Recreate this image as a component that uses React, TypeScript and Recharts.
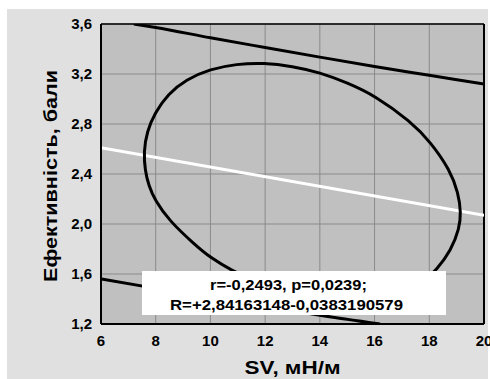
import React from "react";
import {
  LineChart,
  Line,
  XAxis,
  YAxis,
  CartesianGrid,
  ReferenceLine,
  Label,
} from "recharts";

// axis ticks
const xTicks = [6, 8, 10, 12, 14, 16, 18, 20];
const yTicks = [1.2, 1.6, 2.0, 2.4, 2.8, 3.2, 3.6];

// regression line R = 2,8416 - 0,0383*SV
const regression = [
  { x: 6, y: 2.61 },
  { x: 20, y: 2.07 },
];

// confidence band, upper branch
const upperBand = [
  { x: 7.2, y: 3.6 },
  { x: 8, y: 3.572 },
  { x: 10, y: 3.49 },
  { x: 12, y: 3.412 },
  { x: 14, y: 3.335 },
  { x: 16, y: 3.26 },
  { x: 18, y: 3.19 },
  { x: 20, y: 3.12 },
];

// confidence band, lower branch
const lowerBand = [
  { x: 6, y: 1.56 },
  { x: 8, y: 1.485 },
  { x: 10, y: 1.413 },
  { x: 12, y: 1.342 },
  { x: 14, y: 1.27 },
  { x: 16.2, y: 1.2 },
];

// 95% ellipse, traced around from the bottom (closed by the curve)
const ellipse = [
  { x: 14.79, y: 1.37 },
  { x: 15.8, y: 1.385 },
  { x: 16.72, y: 1.425 },
  { x: 17.3, y: 1.475 },
  { x: 17.83, y: 1.545 },
  { x: 18.25, y: 1.63 },
  { x: 18.8, y: 1.79 },
  { x: 19.1, y: 1.966 },
  { x: 19.16, y: 2.09 },
  { x: 19.06, y: 2.25 },
  { x: 18.76, y: 2.43 },
  { x: 18.05, y: 2.655 },
  { x: 17.32, y: 2.82 },
  { x: 16.03, y: 3.025 },
  { x: 15.0, y: 3.13 },
  { x: 14.0, y: 3.212 },
  { x: 13.0, y: 3.262 },
  { x: 11.95, y: 3.29 },
  { x: 10.95, y: 3.28 },
  { x: 10.0, y: 3.24 },
  { x: 9.1, y: 3.155 },
  { x: 8.45, y: 3.04 },
  { x: 7.97, y: 2.89 },
  { x: 7.68, y: 2.74 },
  { x: 7.56, y: 2.578 },
  { x: 7.61, y: 2.43 },
  { x: 7.74, y: 2.31 },
  { x: 7.97, y: 2.19 },
  { x: 8.48, y: 2.03 },
  { x: 9.4, y: 1.84 },
  { x: 10.0, y: 1.73 },
  { x: 10.78, y: 1.628 },
  { x: 11.7, y: 1.535 },
  { x: 12.72, y: 1.448 },
  { x: 13.7, y: 1.395 },
];

const statLines = ["r=-0,2493, p=0,0239;", "R=+2,84163148-0,0383190579"];

const FONT = "'Liberation Sans', Arial, sans-serif";
const tickStyle = { fontSize: 15, fontWeight: 700, fill: "#000", fontFamily: FONT };

export default function App() {
  return (
    <div style={{ position: "absolute", left: 0, top: 0, width: 490, height: 379, overflow: "hidden", background: "#fff" }}>
      <div style={{ position: "absolute", left: 7, top: 9, width: 481, height: 370, background: "#e0e0e0" }} />
      <div style={{ position: "absolute", left: 0, top: 0 }}>
        <LineChart width={490} height={379} margin={{ top: 24, right: 6, bottom: 0, left: 0 }}>
          <CartesianGrid fill="#c0c0c0" fillOpacity={1} stroke="#8a8a8a" strokeWidth={1} />
          <XAxis
            type="number"
            dataKey="x"
            domain={[6, 20]}
            ticks={xTicks}
            interval={0}
            allowDataOverflow
            height={55}
            tickLine={false}
            tickSize={6}
            tickMargin={5}
            axisLine={{ stroke: "#000", strokeWidth: 2 }}
            tick={tickStyle}
          >
            <Label
              content={(p: any) => {
                const vb = p.viewBox;
                return (
                  <text
                    x={vb.x + vb.width / 2}
                    y={vb.y + 50}
                    textAnchor="middle"
                    fontFamily={FONT}
                    fontWeight={700}
                    fontSize={18.5}
                    textLength={96}
                    lengthAdjust="spacingAndGlyphs"
                    fill="#000"
                  >
                    SV, мН/м
                  </text>
                );
              }}
            />
          </XAxis>
          <YAxis
            type="number"
            domain={[1.2, 3.6]}
            ticks={yTicks}
            interval={0}
            allowDataOverflow
            width={101}
            tickLine={false}
            tickSize={6}
            tickMargin={3}
            axisLine={{ stroke: "#000", strokeWidth: 2 }}
            tick={tickStyle}
            tickFormatter={(v: number) => v.toFixed(1).replace(".", ",")}
          >
            <Label
              content={(p: any) => {
                const vb = p.viewBox;
                const cx = 57;
                const cy = vb.y + vb.height / 2 + 2;
                return (
                  <text
                    x={cx}
                    y={cy}
                    transform={`rotate(-90, ${cx}, ${cy})`}
                    textAnchor="middle"
                    fontFamily={FONT}
                    fontWeight={700}
                    fontSize={19}
                    textLength={212}
                    lengthAdjust="spacingAndGlyphs"
                    fill="#000"
                  >
                    Ефективність, бали
                  </text>
                );
              }}
            />
          </YAxis>
          <ReferenceLine y={3.6} stroke="#000" strokeWidth={1.5} />
          <ReferenceLine x={20} stroke="#000" strokeWidth={2} />
          <Line
            data={regression}
            dataKey="y"
            type="linear"
            stroke="#fff"
            strokeWidth={3}
            dot={false}
            isAnimationActive={false}
          />
          <Line
            data={upperBand}
            dataKey="y"
            type="monotone"
            stroke="#000"
            strokeWidth={3}
            dot={false}
            isAnimationActive={false}
          />
          <Line
            data={lowerBand}
            dataKey="y"
            type="monotone"
            stroke="#000"
            strokeWidth={3}
            dot={false}
            isAnimationActive={false}
          />
          <Line
            data={ellipse}
            dataKey="y"
            type="basisClosed"
            stroke="#000"
            strokeWidth={3}
            dot={false}
            isAnimationActive={false}
          />
        </LineChart>
      </div>
      <svg width={490} height={379} style={{ position: "absolute", left: 0, top: 0, pointerEvents: "none" }}>
        <rect x={142} y={271} width={304} height={44} fill="#fff" />
        <text
          x={288.5}
          y={290}
          textAnchor="middle"
          fontFamily={FONT}
          fontWeight={700}
          fontSize={14}
          textLength={157}
          lengthAdjust="spacingAndGlyphs"
          fill="#000"
        >
          {statLines[0]}
        </text>
        <text
          x={286.5}
          y={310}
          textAnchor="middle"
          fontFamily={FONT}
          fontWeight={700}
          fontSize={14}
          textLength={233}
          lengthAdjust="spacingAndGlyphs"
          fill="#000"
        >
          {statLines[1]}
        </text>
      </svg>
    </div>
  );
}
